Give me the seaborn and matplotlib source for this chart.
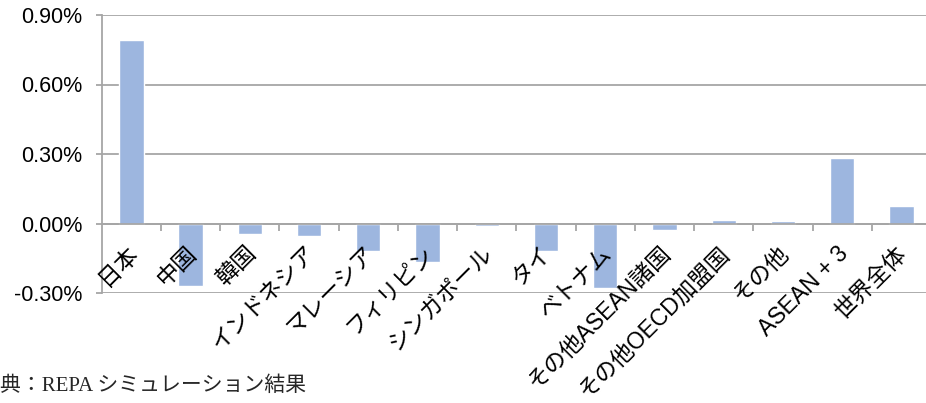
import matplotlib
matplotlib.use('Agg')

import matplotlib.pyplot as plt
import seaborn as sns
from matplotlib.ticker import FuncFormatter, FixedLocator
from matplotlib.transforms import ScaledTranslation

sns.set_theme(style="white")
plt.rcParams['font.family'] = ['Liberation Sans', 'Noto Sans CJK JP', 'DejaVu Sans']

# データ（%）
categories = ['日本', '中国', '韓国', 'インドネシア', 'マレーシア', 'フィリピン',
              'シンガポール', 'タイ', 'ベトナム', 'その他ASEAN諸国',
              'その他OECD加盟国', 'その他', 'ASEAN + 3', '世界全体']
values = [0.79, -0.27, -0.045, -0.054, -0.12, -0.167,
          -0.012, -0.12, -0.278, -0.026,
          0.017, 0.01, 0.284, 0.075]
yticks = [-0.30, 0.00, 0.30, 0.60, 0.90]

bar_color = '#9DB6DF'
grid_color = '#A6A6A6'

fig = plt.figure(figsize=(9.26, 4.03), dpi=100)
ax = fig.add_axes([101.75 / 926, 110 / 403, 829.25 / 926, 278 / 403])

sns.barplot(x=categories, y=values, color=bar_color, saturation=1,
            width=0.41, ax=ax)

ax.set_xlim(-0.5, len(categories) - 0.5)
ax.set_ylim(-0.30, 0.90)
ax.set_yticks(yticks)
ax.yaxis.set_major_formatter(FuncFormatter(lambda v, _: f'{v:.2f}%'))
ax.yaxis.grid(True, color=grid_color, linewidth=1.3)
ax.set_axisbelow(True)
ax.xaxis.set_zorder(3)  # 項目名は棒の上に描く

# 軸線
for s in ['top', 'right']:
    ax.spines[s].set_visible(False)
ax.spines['left'].set_color(grid_color)
ax.spines['left'].set_linewidth(1.3)
ax.spines['bottom'].set_position(('data', 0))
ax.spines['bottom'].set_color(grid_color)
ax.spines['bottom'].set_linewidth(1.3)

ax.tick_params(axis='y', which='major', left=True, length=4, width=1.3,
               color=grid_color, pad=10, labelsize=15.5, labelcolor='black')

# 区切り目盛り（カテゴリ境界）
ax.xaxis.set_minor_locator(FixedLocator([i + 0.5 for i in range(len(categories) - 1)]))
ax.tick_params(axis='x', which='minor', bottom=True, length=5, width=1.3,
               color=grid_color)
ax.tick_params(axis='x', which='major', bottom=False, length=0, pad=13,
               labelsize=16.5, labelcolor='black')
ax.set_xlabel('')
ax.set_ylabel('')

offset = ScaledTranslation(-4 / 72, 0, fig.dpi_scale_trans)
for lab in ax.get_xticklabels():
    lab.set_rotation(45)
    lab.set_ha('right')
    lab.set_va('top')
    lab.set_rotation_mode('anchor')
    lab.set_transform(lab.get_transform() + offset)

fig.text(0, 17 / 403, '典：REPA シミュレーション結果', fontsize=15,
         family=['Liberation Serif', 'Noto Sans CJK JP'], va='center', ha='left')

fig.savefig('out.png', dpi=100)
